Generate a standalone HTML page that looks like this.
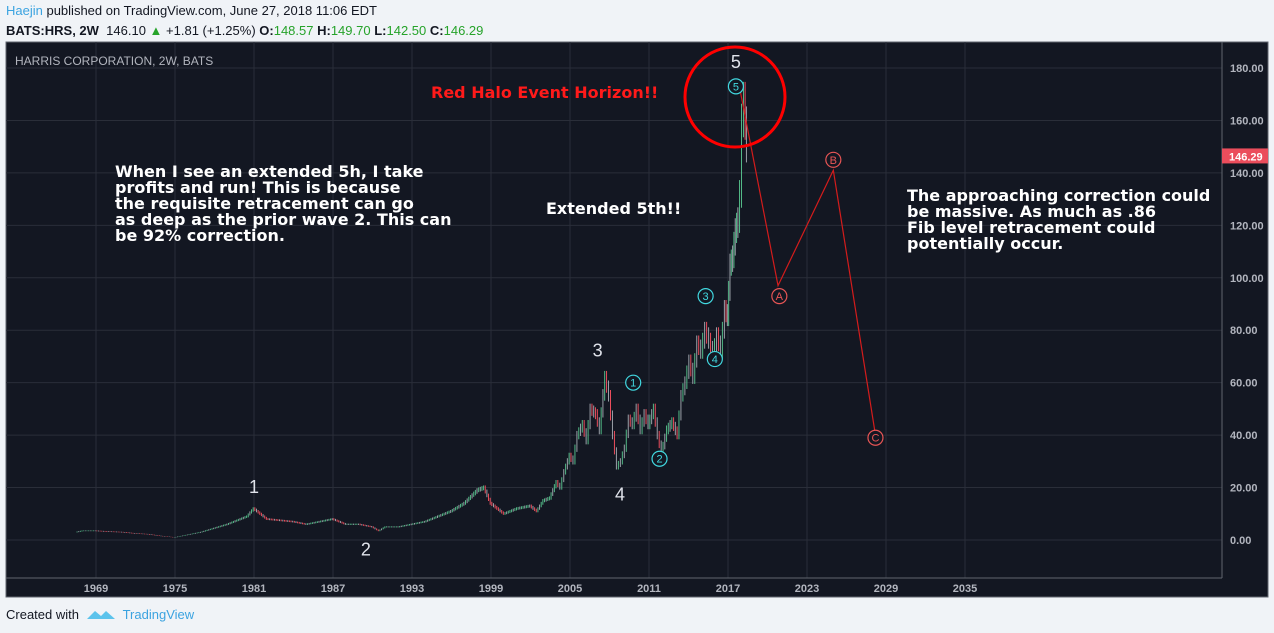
<!DOCTYPE html>
<html><head><meta charset="utf-8"><style>
body{margin:0;width:1274px;height:633px;background:#f0f3f7;font-family:"Liberation Sans",sans-serif;overflow:hidden;position:relative}
.hd{position:absolute;left:6px;font-size:13px;color:#131722}
</style></head><body>
<div class="hd" style="top:3px"><span style="color:#3ba3e0">Haejin</span> published on TradingView.com, June 27, 2018 11:06 EDT</div>
<div class="hd" style="top:23px"><b>BATS:HRS, 2W</b>&nbsp; 146.10 <span style="color:#26a32a">▲</span> +1.81 (+1.25%) <b>O:</b><span style="color:#26a32a">148.57</span> <b>H:</b><span style="color:#26a32a">149.70</span> <b>L:</b><span style="color:#26a32a">142.50</span> <b>C:</b><span style="color:#26a32a">146.29</span></div>
<svg id="c" width="1274" height="633" style="position:absolute;left:0;top:0"></svg>
<div style="position:absolute;left:6px;top:607px;font-size:13px;color:#131722">Created with <span style="display:inline-block;width:40px"></span><span style="color:#3ba3e0">TradingView</span></div>
<svg width="30" height="16" style="position:absolute;left:86px;top:607px"><path d="M1 12 L9 4 L15 9 L20 4 L29 12 Z" fill="#5cc3ec"/></svg>
<script>
const years=[1967.5,1968,1969,1970,1971,1972,1973,1974,1975,1976,1977,1978,1979,1980,1980.5,1981,1981.5,1982,1983,1984,1985,1986,1987,1988,1989,1990,1990.5,1991,1992,1993,1994,1995,1996,1997,1998,1998.5,1999,1999.5,2000,2000.5,2001,2002,2002.5,2003,2003.5,2004,2004.3,2004.6,2005,2005.3,2005.6,2006,2006.3,2006.6,2007,2007.3,2007.7,2008,2008.3,2008.6,2008.9,2009.2,2009.5,2009.8,2010.1,2010.4,2010.7,2011,2011.4,2011.7,2012,2012.4,2012.8,2013.2,2013.5,2013.8,2014.1,2014.4,2014.7,2015,2015.3,2015.6,2015.9,2016.2,2016.5,2016.8,2017,2017.2,2017.4,2017.6,2017.8,2017.95,2018.1,2018.25,2018.45];
const closes=[3,3.5,3.5,3.2,3,2.5,2.2,1.5,1,2,3,4.5,6,8,9,12,10,8,7.5,7,6,7,8,6,6,5,3.5,5,5,6,7,9,11,14,19,20,14,12,10,11,12,13,11,15,16,22,20,26,32,30,40,44,38,50,48,42,62,55,40,28,30,35,46,44,50,42,48,44,50,40,33,42,45,40,55,60,68,62,75,72,80,76,70,78,72,88,85,105,108,118,122,132,160,168,150,146.29];
const yTicks=[0,20,40,60,80,100,120,140,160,180];
const xTicks=[1969,1975,1981,1987,1993,1999,2005,2011,2017,2023,2029,2035];
const waveLabels=[["1",1981,18],["2",1989.5,-6],["3",2007.1,70],["4",2008.8,15],["5",2017.6,180]];
const circled=[["1",2009.8,60,"#41d8e0"],["2",2011.8,31,"#41d8e0"],["3",2015.3,93,"#41d8e0"],["4",2016,69,"#41d8e0"],["5",2017.6,173,"#41d8e0"],["A",2020.9,93,"#e85555"],["B",2025,145,"#e85555"],["C",2028.2,39,"#e85555"]];
const proj=[[2017.9,172],[2020.8,97],[2025,141],[2028.2,40]];
const NS="http://www.w3.org/2000/svg",S=document.getElementById('c');
const X=y=>96+(y-1969)*79/6, Y=v=>540-v*2.622;
function el(t,a,p){const e=document.createElementNS(NS,t);for(const k in a)e.setAttribute(k,a[k]);(p||S).appendChild(e);return e;}
const bg=el('rect',{x:6,y:42,width:1262,height:555,fill:'#131722',stroke:'#60656f'});


yTicks.forEach(v=>{const l=el('line',{x1:6,x2:1222,y1:Y(v),y2:Y(v),stroke:'#2a2e39'});


const t=el('text',{x:1230,y:Y(v)+4,fill:'#b2b5be','font-size':11,'font-weight':'bold','font-family':'Liberation Sans'});t.textContent=v.toFixed(2);

});
xTicks.forEach(v=>{const l=el('line',{x1:X(v),x2:X(v),y1:42,y2:578,stroke:'#2a2e39'});


const t=el('text',{x:X(v),y:592,fill:'#b2b5be','font-size':11,'font-weight':'bold','text-anchor':'middle','font-family':'Liberation Sans'});t.textContent=v;

});
el('line',{x1:1222,x2:1222,y1:42,y2:578,stroke:'#60656f'});
el('line',{x1:6,x2:1222,y1:578,y2:578,stroke:'#60656f'});
const ttl=el('text',{x:15,y:65,fill:'#b2b5be','font-size':12,'font-family':'Liberation Sans'});ttl.textContent='HARRIS CORPORATION, 2W, BATS';


for(let i=1;i<years.length;i++){const o=closes[i-1],c=closes[i],up=c>=o,col=up?'#53b987':'#eb4d5c';
const x0=X(years[i-1]),x1=X(years[i]),n=Math.max(1,Math.round((x1-x0)/1.6));
for(let j=0;j<n;j++){const a=o+(c-o)*j/n,b=o+(c-o)*(j+1)/n,hi=Math.max(a,b)*1.04,lo=Math.min(a,b)*0.96,xx=x0+(x1-x0)*(j+.5)/n;
const w=el('line',{x1:xx,x2:xx,y1:Y(hi),y2:Y(lo),stroke:(j%3==1?'#9aa0a8':col),'stroke-width':1});

}}
const pl=el('polyline',{points:proj.map(p=>X(p[0])+','+Y(p[1])).join(' '),fill:'none',stroke:'#d41c1c','stroke-width':1.2});


waveLabels.forEach(w=>{const t=el('text',{x:X(w[1]),y:Y(w[2]),fill:'#e0e3eb','font-size':18,'text-anchor':'middle','font-family':'Liberation Sans'});t.textContent=w[0];

});
circled.forEach(w=>{const g=el('g',{});


el('circle',{cx:X(w[1]),cy:Y(w[2]),r:7.5,fill:'#131722',stroke:w[3],'stroke-width':1.2},g);
const t=el('text',{x:X(w[1]),y:Y(w[2])+4,fill:w[3],'font-size':11,'text-anchor':'middle','font-family':'Liberation Sans'},g);t.textContent=w[0];});
const halo=el('circle',{cx:735,cy:97,r:50,fill:'none',stroke:'#ff0000','stroke-width':3});


const tag=el('rect',{x:1222,y:Y(146.29)-8,width:46,height:15,fill:'#eb4d5c'});


const tt=el('text',{x:1229,y:Y(146.29)+4,fill:'#fff','font-size':11,'font-weight':'bold','font-family':'Liberation Sans'});tt.textContent='146.29';
function txt(lines,x,y,col,name){const t=el('text',{x:x,y:y,fill:col,'font-size':16,'font-weight':'bold','font-family':'DejaVu Sans'});


lines.forEach((s,i)=>{const sp=el('tspan',{x:x,dy:i?16:0},t);sp.textContent=s;});}
txt(['Red Halo Event Horizon!!'],431,98,'#ff1a1a','halo-note');
txt(['When I see an extended 5h, I take','profits and run! This is because','the requisite retracement can go','as deep as the prior wave 2. This can','be 92% correction.'],115,177,'#ffffff','left-note');
txt(['Extended 5th!!'],546,214,'#ffffff','extended-note');
txt(['The approaching correction could','be massive. As much as .86','Fib level retracement could','potentially occur.'],907,201,'#ffffff','right-note');
</script>
</body></html>
